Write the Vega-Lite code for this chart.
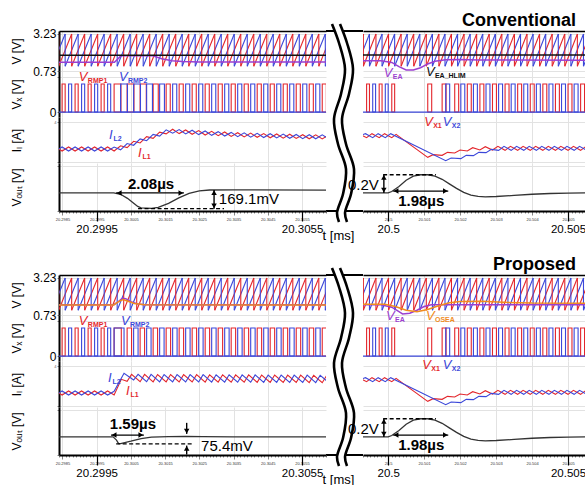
{
"$schema":"https://vega.github.io/schema/vega-lite/v6.json",
"background":"white",
"padding":{"left":10,"top":8,"right":0,"bottom":0},
"config":{"view":{"stroke":null},"font":"Liberation Sans, Arial, sans-serif","text":{"color":"#000"}},
"datasets":{
"rampL":[
{"s":"B","a":20.2982,"b":20.29858,"lo":1.05,"hi":3.2},{"s":"B","a":20.29858,"b":20.29896,"lo":1.05,"hi":3.2},{"s":"B","a":20.29896,"b":20.29934,"lo":1.05,"hi":3.2},{"s":"B","a":20.29934,"b":20.29972,"lo":1.05,"hi":3.2},{"s":"B","a":20.29972,"b":20.3001,"lo":1.05,"hi":3.2},{"s":"B","a":20.3001,"b":20.30048,"lo":1.05,"hi":3.2},{"s":"B","a":20.30048,"b":20.30086,"lo":1.05,"hi":3.2},{"s":"B","a":20.30086,"b":20.30124,"lo":1.05,"hi":3.2},{"s":"B","a":20.30124,"b":20.30162,"lo":1.05,"hi":3.2},{"s":"B","a":20.30162,"b":20.302,"lo":1.05,"hi":3.2},{"s":"B","a":20.302,"b":20.30238,"lo":1.05,"hi":3.2},{"s":"B","a":20.30238,"b":20.30276,"lo":1.05,"hi":3.2},{"s":"B","a":20.30276,"b":20.30314,"lo":1.05,"hi":3.2},{"s":"B","a":20.30314,"b":20.30352,"lo":1.05,"hi":3.2},{"s":"B","a":20.30352,"b":20.3039,"lo":1.05,"hi":3.2},{"s":"B","a":20.3039,"b":20.30428,"lo":1.05,"hi":3.2},{"s":"B","a":20.30428,"b":20.30466,"lo":1.05,"hi":3.2},{"s":"B","a":20.30466,"b":20.30504,"lo":1.05,"hi":3.2},{"s":"B","a":20.30504,"b":20.30542,"lo":1.05,"hi":3.2},{"s":"B","a":20.30542,"b":20.3058,"lo":1.05,"hi":3.2},{"s":"B","a":20.3058,"b":20.30618,"lo":1.05,"hi":3.2},{"s":"B","a":20.30618,"b":20.30656,"lo":1.05,"hi":3.2},
{"s":"R","a":20.29801,"b":20.29839,"lo":1.05,"hi":3.2},{"s":"R","a":20.29839,"b":20.29877,"lo":1.05,"hi":3.2},{"s":"R","a":20.29877,"b":20.29915,"lo":1.05,"hi":3.2},{"s":"R","a":20.29915,"b":20.29953,"lo":1.05,"hi":3.2},{"s":"R","a":20.29953,"b":20.29991,"lo":1.05,"hi":3.2},{"s":"R","a":20.29991,"b":20.30029,"lo":1.05,"hi":3.2},{"s":"R","a":20.30029,"b":20.30067,"lo":1.05,"hi":3.2},{"s":"R","a":20.30067,"b":20.30105,"lo":1.05,"hi":3.2},{"s":"R","a":20.30105,"b":20.30143,"lo":1.05,"hi":3.2},{"s":"R","a":20.30143,"b":20.30181,"lo":1.05,"hi":3.2},{"s":"R","a":20.30181,"b":20.30219,"lo":1.05,"hi":3.2},{"s":"R","a":20.30219,"b":20.30257,"lo":1.05,"hi":3.2},{"s":"R","a":20.30257,"b":20.30295,"lo":1.05,"hi":3.2},{"s":"R","a":20.30295,"b":20.30333,"lo":1.05,"hi":3.2},{"s":"R","a":20.30333,"b":20.30371,"lo":1.05,"hi":3.2},{"s":"R","a":20.30371,"b":20.30409,"lo":1.05,"hi":3.2},{"s":"R","a":20.30409,"b":20.30447,"lo":1.05,"hi":3.2},{"s":"R","a":20.30447,"b":20.30485,"lo":1.05,"hi":3.2},{"s":"R","a":20.30485,"b":20.30523,"lo":1.05,"hi":3.2},{"s":"R","a":20.30523,"b":20.30561,"lo":1.05,"hi":3.2},{"s":"R","a":20.30561,"b":20.30599,"lo":1.05,"hi":3.2},{"s":"R","a":20.30599,"b":20.30637,"lo":1.05,"hi":3.2}],
"rampR":[
{"s":"B","a":20.49913,"b":20.49948,"lo":1.05,"hi":3.2},{"s":"B","a":20.49948,"b":20.49983,"lo":1.05,"hi":3.2},{"s":"B","a":20.49983,"b":20.50018,"lo":1.05,"hi":3.2},{"s":"B","a":20.50018,"b":20.50053,"lo":1.05,"hi":3.2},{"s":"B","a":20.50053,"b":20.50088,"lo":1.05,"hi":3.2},{"s":"B","a":20.50088,"b":20.50123,"lo":1.05,"hi":3.2},{"s":"B","a":20.50123,"b":20.50158,"lo":1.05,"hi":3.2},{"s":"B","a":20.50158,"b":20.50193,"lo":1.05,"hi":3.2},{"s":"B","a":20.50193,"b":20.50228,"lo":1.05,"hi":3.2},{"s":"B","a":20.50228,"b":20.50263,"lo":1.05,"hi":3.2},{"s":"B","a":20.50263,"b":20.50298,"lo":1.05,"hi":3.2},{"s":"B","a":20.50298,"b":20.50333,"lo":1.05,"hi":3.2},{"s":"B","a":20.50333,"b":20.50368,"lo":1.05,"hi":3.2},{"s":"B","a":20.50368,"b":20.50403,"lo":1.05,"hi":3.2},{"s":"B","a":20.50403,"b":20.50438,"lo":1.05,"hi":3.2},{"s":"B","a":20.50438,"b":20.50473,"lo":1.05,"hi":3.2},{"s":"B","a":20.50473,"b":20.50508,"lo":1.05,"hi":3.2},{"s":"B","a":20.50508,"b":20.50543,"lo":1.05,"hi":3.2},{"s":"B","a":20.50543,"b":20.50578,"lo":1.05,"hi":3.2},
{"s":"R","a":20.49896,"b":20.49931,"lo":1.05,"hi":3.2},{"s":"R","a":20.49931,"b":20.49966,"lo":1.05,"hi":3.2},{"s":"R","a":20.49966,"b":20.50001,"lo":1.05,"hi":3.2},{"s":"R","a":20.50001,"b":20.50036,"lo":1.05,"hi":3.2},{"s":"R","a":20.50036,"b":20.50071,"lo":1.05,"hi":3.2},{"s":"R","a":20.50071,"b":20.50106,"lo":1.05,"hi":3.2},{"s":"R","a":20.50106,"b":20.50141,"lo":1.05,"hi":3.2},{"s":"R","a":20.50141,"b":20.50176,"lo":1.05,"hi":3.2},{"s":"R","a":20.50176,"b":20.50211,"lo":1.05,"hi":3.2},{"s":"R","a":20.50211,"b":20.50246,"lo":1.05,"hi":3.2},{"s":"R","a":20.50246,"b":20.50281,"lo":1.05,"hi":3.2},{"s":"R","a":20.50281,"b":20.50316,"lo":1.05,"hi":3.2},{"s":"R","a":20.50316,"b":20.50351,"lo":1.05,"hi":3.2},{"s":"R","a":20.50351,"b":20.50386,"lo":1.05,"hi":3.2},{"s":"R","a":20.50386,"b":20.50421,"lo":1.05,"hi":3.2},{"s":"R","a":20.50421,"b":20.50456,"lo":1.05,"hi":3.2},{"s":"R","a":20.50456,"b":20.50491,"lo":1.05,"hi":3.2},{"s":"R","a":20.50491,"b":20.50526,"lo":1.05,"hi":3.2},{"s":"R","a":20.50526,"b":20.50561,"lo":1.05,"hi":3.2}],
"pulseLC":[
{"s":"R","a":20.29849,"b":20.29858,"h":4},{"s":"R","a":20.29887,"b":20.29896,"h":4},{"s":"R","a":20.29925,"b":20.29934,"h":4},{"s":"R","a":20.29963,"b":20.29972,"h":4},{"s":"R","a":20.30001,"b":20.30021,"h":4},{"s":"R","a":20.30039,"b":20.30059,"h":4},{"s":"R","a":20.30077,"b":20.30095,"h":4},{"s":"R","a":20.30115,"b":20.3013,"h":4},{"s":"R","a":20.30153,"b":20.30165,"h":4},{"s":"R","a":20.30191,"b":20.30203,"h":4},{"s":"R","a":20.30229,"b":20.30241,"h":4},{"s":"R","a":20.30267,"b":20.30279,"h":4},{"s":"R","a":20.30305,"b":20.30317,"h":4},{"s":"R","a":20.30343,"b":20.30355,"h":4},{"s":"R","a":20.30381,"b":20.30393,"h":4},{"s":"R","a":20.30419,"b":20.30431,"h":4},{"s":"R","a":20.30457,"b":20.30469,"h":4},{"s":"R","a":20.30495,"b":20.30507,"h":4},{"s":"R","a":20.30533,"b":20.30545,"h":4},{"s":"R","a":20.30571,"b":20.30583,"h":4},{"s":"R","a":20.30609,"b":20.30621,"h":4},
{"s":"B","a":20.29868,"b":20.29877,"h":4},{"s":"B","a":20.29906,"b":20.29915,"h":4},{"s":"B","a":20.29944,"b":20.29953,"h":4},{"s":"B","a":20.29982,"b":20.29991,"h":4},{"s":"B","a":20.3002,"b":20.3004,"h":4},{"s":"B","a":20.30058,"b":20.30078,"h":4},{"s":"B","a":20.30096,"b":20.30113,"h":4},{"s":"B","a":20.30134,"b":20.30148,"h":4},{"s":"B","a":20.30172,"b":20.30184,"h":4},{"s":"B","a":20.3021,"b":20.30222,"h":4},{"s":"B","a":20.30248,"b":20.3026,"h":4},{"s":"B","a":20.30286,"b":20.30298,"h":4},{"s":"B","a":20.30324,"b":20.30336,"h":4},{"s":"B","a":20.30362,"b":20.30374,"h":4},{"s":"B","a":20.304,"b":20.30412,"h":4},{"s":"B","a":20.30438,"b":20.3045,"h":4},{"s":"B","a":20.30476,"b":20.30488,"h":4},{"s":"B","a":20.30514,"b":20.30526,"h":4},{"s":"B","a":20.30552,"b":20.30564,"h":4},{"s":"B","a":20.3059,"b":20.30602,"h":4}],
"pulseLP":[
{"s":"R","a":20.29849,"b":20.29858,"h":4},{"s":"R","a":20.29887,"b":20.29896,"h":4},{"s":"R","a":20.29925,"b":20.29934,"h":4},{"s":"R","a":20.29963,"b":20.29972,"h":4},{"s":"R","a":20.30001,"b":20.30022,"h":4},{"s":"R","a":20.30039,"b":20.30052,"h":4},{"s":"R","a":20.30077,"b":20.3009,"h":4},{"s":"R","a":20.30115,"b":20.30128,"h":4},{"s":"R","a":20.30153,"b":20.30166,"h":4},{"s":"R","a":20.30191,"b":20.30204,"h":4},{"s":"R","a":20.30229,"b":20.30242,"h":4},{"s":"R","a":20.30267,"b":20.3028,"h":4},{"s":"R","a":20.30305,"b":20.30318,"h":4},{"s":"R","a":20.30343,"b":20.30356,"h":4},{"s":"R","a":20.30381,"b":20.30394,"h":4},{"s":"R","a":20.30419,"b":20.30432,"h":4},{"s":"R","a":20.30457,"b":20.3047,"h":4},{"s":"R","a":20.30495,"b":20.30508,"h":4},{"s":"R","a":20.30533,"b":20.30546,"h":4},{"s":"R","a":20.30571,"b":20.30584,"h":4},{"s":"R","a":20.30609,"b":20.30622,"h":4},
{"s":"B","a":20.29868,"b":20.29877,"h":4},{"s":"B","a":20.29906,"b":20.29915,"h":4},{"s":"B","a":20.29944,"b":20.29953,"h":4},{"s":"B","a":20.29982,"b":20.29991,"h":4},{"s":"B","a":20.30001,"b":20.3003,"h":4},{"s":"B","a":20.30058,"b":20.30071,"h":4},{"s":"B","a":20.30096,"b":20.30109,"h":4},{"s":"B","a":20.30134,"b":20.30147,"h":4},{"s":"B","a":20.30172,"b":20.30185,"h":4},{"s":"B","a":20.3021,"b":20.30223,"h":4},{"s":"B","a":20.30248,"b":20.30261,"h":4},{"s":"B","a":20.30286,"b":20.30299,"h":4},{"s":"B","a":20.30324,"b":20.30337,"h":4},{"s":"B","a":20.30362,"b":20.30375,"h":4},{"s":"B","a":20.304,"b":20.30413,"h":4},{"s":"B","a":20.30438,"b":20.30451,"h":4},{"s":"B","a":20.30476,"b":20.30489,"h":4},{"s":"B","a":20.30514,"b":20.30527,"h":4},{"s":"B","a":20.30552,"b":20.30565,"h":4},{"s":"B","a":20.3059,"b":20.30603,"h":4}],
"pulseR":[
{"s":"R","a":20.4994,"b":20.49948,"h":4},{"s":"R","a":20.49975,"b":20.49983,"h":4},{"s":"R","a":20.5001,"b":20.50018,"h":4},{"s":"R","a":20.5011,"b":20.50121,"h":4},{"s":"R","a":20.5015,"b":20.50161,"h":4},{"s":"R","a":20.50185,"b":20.50196,"h":4},{"s":"R","a":20.5022,"b":20.50231,"h":4},{"s":"R","a":20.50255,"b":20.50266,"h":4},{"s":"R","a":20.5029,"b":20.50301,"h":4},{"s":"R","a":20.50325,"b":20.50336,"h":4},{"s":"R","a":20.5036,"b":20.50371,"h":4},{"s":"R","a":20.50395,"b":20.50406,"h":4},{"s":"R","a":20.5043,"b":20.50441,"h":4},{"s":"R","a":20.50465,"b":20.50476,"h":4},{"s":"R","a":20.505,"b":20.50511,"h":4},{"s":"R","a":20.50535,"b":20.50546,"h":4},
{"s":"B","a":20.49957,"b":20.49965,"h":4},{"s":"B","a":20.49992,"b":20.5,"h":4},{"s":"B","a":20.5016,"b":20.50171,"h":4},{"s":"B","a":20.50202,"b":20.50213,"h":4},{"s":"B","a":20.50237,"b":20.50248,"h":4},{"s":"B","a":20.50272,"b":20.50283,"h":4},{"s":"B","a":20.50307,"b":20.50318,"h":4},{"s":"B","a":20.50342,"b":20.50353,"h":4},{"s":"B","a":20.50377,"b":20.50388,"h":4},{"s":"B","a":20.50412,"b":20.50423,"h":4},{"s":"B","a":20.50447,"b":20.50458,"h":4},{"s":"B","a":20.50482,"b":20.50493,"h":4},{"s":"B","a":20.50517,"b":20.50528,"h":4}],
"ilLC":[
{"s":"R","t":20.2983,"v":0.3},{"s":"R","t":20.29849,"v":-0.3},{"s":"R","t":20.29868,"v":0.3},{"s":"R","t":20.29887,"v":-0.3},{"s":"R","t":20.29906,"v":0.3},{"s":"R","t":20.29925,"v":-0.3},{"s":"R","t":20.29944,"v":0.3},{"s":"R","t":20.29963,"v":-0.3},{"s":"R","t":20.29982,"v":0.3},{"s":"R","t":20.30001,"v":-0.3},{"s":"R","t":20.3002,"v":0.48},{"s":"R","t":20.30039,"v":0.22},{"s":"R","t":20.30058,"v":1.16},{"s":"R","t":20.30077,"v":0.91},{"s":"R","t":20.30096,"v":1.85},{"s":"R","t":20.30115,"v":1.59},{"s":"R","t":20.30134,"v":2.53},{"s":"R","t":20.30153,"v":2.27},{"s":"R","t":20.30172,"v":2.97},{"s":"R","t":20.30191,"v":2.31},{"s":"R","t":20.3021,"v":2.86},{"s":"R","t":20.30229,"v":2.21},{"s":"R","t":20.30248,"v":2.76},{"s":"R","t":20.30267,"v":2.1},{"s":"R","t":20.30286,"v":2.65},{"s":"R","t":20.30305,"v":2.0},{"s":"R","t":20.30324,"v":2.55},{"s":"R","t":20.30343,"v":1.89},{"s":"R","t":20.30362,"v":2.45},{"s":"R","t":20.30381,"v":1.82},{"s":"R","t":20.304,"v":2.38},{"s":"R","t":20.30419,"v":1.75},{"s":"R","t":20.30438,"v":2.32},{"s":"R","t":20.30457,"v":1.69},{"s":"R","t":20.30476,"v":2.26},{"s":"R","t":20.30495,"v":1.63},{"s":"R","t":20.30514,"v":2.21},{"s":"R","t":20.30533,"v":1.58},{"s":"R","t":20.30552,"v":2.15},{"s":"R","t":20.30571,"v":1.54},{"s":"R","t":20.3059,"v":2.13},{"s":"R","t":20.30609,"v":1.52},{"s":"R","t":20.30628,"v":2.12},
{"s":"B","t":20.2983,"v":-0.3},{"s":"B","t":20.29849,"v":0.3},{"s":"B","t":20.29868,"v":-0.3},{"s":"B","t":20.29887,"v":0.3},{"s":"B","t":20.29906,"v":-0.3},{"s":"B","t":20.29925,"v":0.3},{"s":"B","t":20.29944,"v":-0.3},{"s":"B","t":20.29963,"v":0.3},{"s":"B","t":20.29982,"v":-0.3},{"s":"B","t":20.30001,"v":0.3},{"s":"B","t":20.3002,"v":-0.12},{"s":"B","t":20.30039,"v":0.82},{"s":"B","t":20.30058,"v":0.56},{"s":"B","t":20.30077,"v":1.51},{"s":"B","t":20.30096,"v":1.25},{"s":"B","t":20.30115,"v":2.19},{"s":"B","t":20.30134,"v":1.93},{"s":"B","t":20.30153,"v":2.87},{"s":"B","t":20.30172,"v":2.37},{"s":"B","t":20.30191,"v":2.91},{"s":"B","t":20.3021,"v":2.26},{"s":"B","t":20.30229,"v":2.81},{"s":"B","t":20.30248,"v":2.16},{"s":"B","t":20.30267,"v":2.7},{"s":"B","t":20.30286,"v":2.05},{"s":"B","t":20.30305,"v":2.6},{"s":"B","t":20.30324,"v":1.95},{"s":"B","t":20.30343,"v":2.49},{"s":"B","t":20.30362,"v":1.85},{"s":"B","t":20.30381,"v":2.42},{"s":"B","t":20.304,"v":1.78},{"s":"B","t":20.30419,"v":2.35},{"s":"B","t":20.30438,"v":1.72},{"s":"B","t":20.30457,"v":2.29},{"s":"B","t":20.30476,"v":1.66},{"s":"B","t":20.30495,"v":2.23},{"s":"B","t":20.30514,"v":1.61},{"s":"B","t":20.30533,"v":2.18},{"s":"B","t":20.30552,"v":1.55},{"s":"B","t":20.30571,"v":2.14},{"s":"B","t":20.3059,"v":1.53},{"s":"B","t":20.30609,"v":2.12},{"s":"B","t":20.30628,"v":1.52}],
"ilLP":[
{"s":"R","t":20.2983,"v":0.3},{"s":"R","t":20.29849,"v":-0.3},{"s":"R","t":20.29868,"v":0.3},{"s":"R","t":20.29887,"v":-0.3},{"s":"R","t":20.29906,"v":0.3},{"s":"R","t":20.29925,"v":-0.3},{"s":"R","t":20.29944,"v":0.3},{"s":"R","t":20.29963,"v":-0.3},{"s":"R","t":20.29982,"v":0.3},{"s":"R","t":20.30001,"v":-0.3},{"s":"R","t":20.30022,"v":2.05},{"s":"R","t":20.30039,"v":1.75},{"s":"R","t":20.30052,"v":2.8},{"s":"R","t":20.30077,"v":1.69},{"s":"R","t":20.3009,"v":2.79},{"s":"R","t":20.30115,"v":1.68},{"s":"R","t":20.30128,"v":2.78},{"s":"R","t":20.30153,"v":1.67},{"s":"R","t":20.30166,"v":2.77},{"s":"R","t":20.30191,"v":1.66},{"s":"R","t":20.30204,"v":2.76},{"s":"R","t":20.30229,"v":1.65},{"s":"R","t":20.30242,"v":2.75},{"s":"R","t":20.30267,"v":1.64},{"s":"R","t":20.3028,"v":2.74},{"s":"R","t":20.30305,"v":1.63},{"s":"R","t":20.30318,"v":2.73},{"s":"R","t":20.30343,"v":1.62},{"s":"R","t":20.30356,"v":2.72},{"s":"R","t":20.30381,"v":1.61},{"s":"R","t":20.30394,"v":2.71},{"s":"R","t":20.30419,"v":1.6},{"s":"R","t":20.30432,"v":2.7},{"s":"R","t":20.30457,"v":1.59},{"s":"R","t":20.3047,"v":2.69},{"s":"R","t":20.30495,"v":1.58},{"s":"R","t":20.30508,"v":2.68},{"s":"R","t":20.30533,"v":1.57},{"s":"R","t":20.30546,"v":2.67},{"s":"R","t":20.30571,"v":1.56},{"s":"R","t":20.30584,"v":2.66},{"s":"R","t":20.30609,"v":1.55},{"s":"R","t":20.30622,"v":2.65},
{"s":"B","t":20.2983,"v":-0.3},{"s":"B","t":20.29849,"v":0.3},{"s":"B","t":20.29868,"v":-0.3},{"s":"B","t":20.29887,"v":0.3},{"s":"B","t":20.29906,"v":-0.3},{"s":"B","t":20.29925,"v":0.3},{"s":"B","t":20.29944,"v":-0.3},{"s":"B","t":20.29963,"v":0.3},{"s":"B","t":20.29982,"v":-0.3},{"s":"B","t":20.30001,"v":0.25},{"s":"B","t":20.3003,"v":2.95},{"s":"B","t":20.30058,"v":1.95},{"s":"B","t":20.30071,"v":2.8},{"s":"B","t":20.30096,"v":1.69},{"s":"B","t":20.30109,"v":2.79},{"s":"B","t":20.30134,"v":1.68},{"s":"B","t":20.30147,"v":2.78},{"s":"B","t":20.30172,"v":1.67},{"s":"B","t":20.30185,"v":2.77},{"s":"B","t":20.3021,"v":1.66},{"s":"B","t":20.30223,"v":2.76},{"s":"B","t":20.30248,"v":1.65},{"s":"B","t":20.30261,"v":2.75},{"s":"B","t":20.30286,"v":1.64},{"s":"B","t":20.30299,"v":2.74},{"s":"B","t":20.30324,"v":1.63},{"s":"B","t":20.30337,"v":2.73},{"s":"B","t":20.30362,"v":1.62},{"s":"B","t":20.30375,"v":2.72},{"s":"B","t":20.304,"v":1.61},{"s":"B","t":20.30413,"v":2.71},{"s":"B","t":20.30438,"v":1.6},{"s":"B","t":20.30451,"v":2.7},{"s":"B","t":20.30476,"v":1.59},{"s":"B","t":20.30489,"v":2.69},{"s":"B","t":20.30514,"v":1.58},{"s":"B","t":20.30527,"v":2.68},{"s":"B","t":20.30552,"v":1.57},{"s":"B","t":20.30565,"v":2.67},{"s":"B","t":20.3059,"v":1.56},{"s":"B","t":20.30603,"v":2.66},{"s":"B","t":20.30628,"v":1.55}],
"ilR":[
{"s":"R","t":20.4992,"v":2.25},{"s":"R","t":20.4994,"v":1.7},{"s":"R","t":20.49955,"v":2.3},{"s":"R","t":20.49975,"v":1.7},{"s":"R","t":20.4999,"v":2.3},{"s":"R","t":20.5001,"v":1.7},{"s":"R","t":20.50022,"v":2.2},{"s":"R","t":20.5011,"v":-1.25},{"s":"R","t":20.50125,"v":-0.85},{"s":"R","t":20.5015,"v":-0.95},{"s":"R","t":20.50165,"v":-0.5},{"s":"R","t":20.50185,"v":-0.6},{"s":"R","t":20.502,"v":-0.15},{"s":"R","t":20.5022,"v":-0.3},{"s":"R","t":20.50235,"v":0.2},{"s":"R","t":20.50255,"v":-0.15},{"s":"R","t":20.5027,"v":0.35},{"s":"R","t":20.5029,"v":-0.15},{"s":"R","t":20.50305,"v":0.4},{"s":"R","t":20.50325,"v":-0.2},{"s":"R","t":20.5034,"v":0.4},{"s":"R","t":20.5036,"v":-0.2},{"s":"R","t":20.50375,"v":0.4},{"s":"R","t":20.50395,"v":-0.2},{"s":"R","t":20.5041,"v":0.4},{"s":"R","t":20.5043,"v":-0.2},{"s":"R","t":20.50445,"v":0.4},{"s":"R","t":20.50465,"v":-0.2},{"s":"R","t":20.5048,"v":0.4},{"s":"R","t":20.505,"v":-0.2},{"s":"R","t":20.50515,"v":0.4},{"s":"R","t":20.50535,"v":-0.2},{"s":"R","t":20.5055,"v":0.4},
{"s":"B","t":20.4992,"v":2.0},{"s":"B","t":20.49937,"v":2.3},{"s":"B","t":20.49957,"v":1.7},{"s":"B","t":20.49972,"v":2.3},{"s":"B","t":20.49992,"v":1.7},{"s":"B","t":20.50007,"v":2.3},{"s":"B","t":20.5016,"v":-1.75},{"s":"B","t":20.50175,"v":-1.35},{"s":"B","t":20.50202,"v":-1.45},{"s":"B","t":20.50217,"v":-0.95},{"s":"B","t":20.50237,"v":-1.0},{"s":"B","t":20.50252,"v":-0.5},{"s":"B","t":20.50272,"v":-0.55},{"s":"B","t":20.50287,"v":-0.05},{"s":"B","t":20.50307,"v":-0.2},{"s":"B","t":20.50322,"v":0.4},{"s":"B","t":20.50342,"v":-0.2},{"s":"B","t":20.50357,"v":0.4},{"s":"B","t":20.50377,"v":-0.2},{"s":"B","t":20.50392,"v":0.4},{"s":"B","t":20.50412,"v":-0.2},{"s":"B","t":20.50427,"v":0.4},{"s":"B","t":20.50447,"v":-0.2},{"s":"B","t":20.50462,"v":0.4},{"s":"B","t":20.50482,"v":-0.2},{"s":"B","t":20.50497,"v":0.4},{"s":"B","t":20.50517,"v":-0.2},{"s":"B","t":20.50532,"v":0.4},{"s":"B","t":20.50552,"v":-0.2}],
"veaLC":[
{"s":"P","t":20.2984,"v":1.31},{"s":"P","t":20.30002,"v":1.31},{"s":"P","t":20.30021,"v":1.74},{"s":"P","t":20.30114,"v":1.74},{"s":"P","t":20.3014,"v":1.55},{"s":"P","t":20.3017,"v":1.42},{"s":"P","t":20.302,"v":1.36},{"s":"P","t":20.3025,"v":1.33},{"s":"P","t":20.3062,"v":1.33},
{"s":"K","t":20.2984,"v":1.78},{"s":"K","t":20.3062,"v":1.78}],
"veaLP":[
{"s":"P","t":20.2984,"v":1.42},{"s":"P","t":20.3,"v":1.42},{"s":"P","t":20.30012,"v":1.6},{"s":"P","t":20.30025,"v":1.85},{"s":"P","t":20.30035,"v":1.82},{"s":"P","t":20.3005,"v":1.62},{"s":"P","t":20.3007,"v":1.47},{"s":"P","t":20.3009,"v":1.42},{"s":"P","t":20.3062,"v":1.42},
{"s":"O","t":20.2984,"v":1.4},{"s":"O","t":20.3,"v":1.4},{"s":"O","t":20.30014,"v":1.62},{"s":"O","t":20.30027,"v":1.76},{"s":"O","t":20.3004,"v":1.66},{"s":"O","t":20.3006,"v":1.5},{"s":"O","t":20.3009,"v":1.41},{"s":"O","t":20.3062,"v":1.4}],
"veaRC":[
{"s":"P","t":20.4993,"v":1.42},{"s":"P","t":20.4998,"v":1.42},{"s":"P","t":20.5001,"v":1.3},{"s":"P","t":20.5003,"v":1.02},{"s":"P","t":20.5005,"v":0.8},{"s":"P","t":20.5007,"v":0.8},{"s":"P","t":20.5009,"v":0.95},{"s":"P","t":20.5011,"v":1.2},{"s":"P","t":20.5013,"v":1.38},{"s":"P","t":20.5016,"v":1.48},{"s":"P","t":20.502,"v":1.5},{"s":"P","t":20.5025,"v":1.47},{"s":"P","t":20.5055,"v":1.45},
{"s":"K","t":20.4993,"v":1.8},{"s":"K","t":20.5055,"v":1.8}],
"veaRP":[
{"s":"P","t":20.4993,"v":1.42},{"s":"P","t":20.4998,"v":1.42},{"s":"P","t":20.5001,"v":1.25},{"s":"P","t":20.5003,"v":0.95},{"s":"P","t":20.5004,"v":0.8},{"s":"P","t":20.5006,"v":0.85},{"s":"P","t":20.5008,"v":1.05},{"s":"P","t":20.501,"v":1.3},{"s":"P","t":20.5012,"v":1.42},{"s":"P","t":20.5055,"v":1.42},
{"s":"O","t":20.4993,"v":1.45},{"s":"O","t":20.4999,"v":1.45},{"s":"O","t":20.5002,"v":1.3},{"s":"O","t":20.5005,"v":1.05},{"s":"O","t":20.5008,"v":0.95},{"s":"O","t":20.5011,"v":1.1},{"s":"O","t":20.5014,"v":1.35},{"s":"O","t":20.5017,"v":1.55},{"s":"O","t":20.502,"v":1.63},{"s":"O","t":20.5026,"v":1.64},{"s":"O","t":20.5032,"v":1.58},{"s":"O","t":20.504,"v":1.53},{"s":"O","t":20.5055,"v":1.52}],
"voutLC":[
{"t":20.2984,"v":1.0},{"t":20.3,"v":1.0},{"t":20.3002,"v":0.985},{"t":20.3004,"v":0.94},{"t":20.3006,"v":0.88},{"t":20.3007,"v":0.85},{"t":20.3008,"v":0.835},{"t":20.3011,"v":0.829},{"t":20.3013,"v":0.84},{"t":20.3016,"v":0.885},{"t":20.3019,"v":0.945},{"t":20.3022,"v":0.995},{"t":20.3025,"v":1.022},{"t":20.3028,"v":1.032},{"t":20.3035,"v":1.033},{"t":20.3062,"v":1.03}],
"voutLP":[
{"t":20.2984,"v":1.0},{"t":20.29998,"v":1.0},{"t":20.30008,"v":0.965},{"t":20.30014,"v":0.925},{"t":20.3002,"v":0.926},{"t":20.3005,"v":0.952},{"t":20.3008,"v":0.982},{"t":20.3011,"v":0.997},{"t":20.3016,"v":1.004},{"t":20.3021,"v":1.006},{"t":20.3026,"v":1.003},{"t":20.3035,"v":1.0},{"t":20.3062,"v":1.0}],
"voutR":[
{"t":20.4993,"v":1.0},{"t":20.5,"v":1.0},{"t":20.5001,"v":1.015},{"t":20.5003,"v":1.07},{"t":20.5005,"v":1.14},{"t":20.5007,"v":1.185},{"t":20.5009,"v":1.2},{"t":20.5011,"v":1.2},{"t":20.5013,"v":1.185},{"t":20.5015,"v":1.15},{"t":20.5017,"v":1.1},{"t":20.5019,"v":1.05},{"t":20.5021,"v":1.005},{"t":20.5023,"v":0.975},{"t":20.5025,"v":0.962},{"t":20.5027,"v":0.957},{"t":20.503,"v":0.96},{"t":20.5035,"v":0.972},{"t":20.504,"v":0.985},{"t":20.5045,"v":0.993},{"t":20.505,"v":0.998},{"t":20.5055,"v":1.0}],
"brk":[
{"g":"A","u":6,"w":-7},{"g":"A","u":13,"w":12},{"g":"A","u":19,"w":38},{"g":"A","u":15,"w":63},{"g":"A","u":8,"w":88},{"g":"A","u":12,"w":113},{"g":"A","u":20,"w":138},{"g":"A","u":17,"w":163},{"g":"A","u":11,"w":182},{"g":"A","u":13,"w":191},
{"g":"B","u":14,"w":-7},{"g":"B","u":21,"w":12},{"g":"B","u":27,"w":38},{"g":"B","u":23,"w":63},{"g":"B","u":16,"w":88},{"g":"B","u":20,"w":113},{"g":"B","u":28,"w":138},{"g":"B","u":25,"w":163},{"g":"B","u":19,"w":182},{"g":"B","u":21,"w":191},
{"g":"M","u":10,"w":-7},{"g":"M","u":17,"w":12},{"g":"M","u":23,"w":38},{"g":"M","u":19,"w":63},{"g":"M","u":12,"w":88},{"g":"M","u":16,"w":113},{"g":"M","u":24,"w":138},{"g":"M","u":21,"w":163},{"g":"M","u":15,"w":182},{"g":"M","u":17,"w":191}]
},
"spacing":10,
"vconcat":[
{"concat":[
{"width":267,"height":40,"layer":[
{"data":{"name":"rampL"},"mark":{"type":"rule","clip":true,"strokeWidth":1.1},"encoding":{"x":{"field":"a","type":"quantitative","scale":{"domain":[20.2984,20.3062],"nice":false,"zero":false},"axis":{"orient":"top","values":[20.2985,20.2995,20.3005,20.3015,20.3025,20.3035,20.3045,20.3055],"labels":false,"ticks":false,"domain":true,"domainColor":"#000","domainWidth":1.5,"grid":true,"gridColor":"#e2e2e2","title":null}},"x2":{"field":"b"},"y":{"field":"lo","type":"quantitative","scale":{"domain":[0.73,3.4],"nice":false,"zero":false},"axis":{"values":[0.73,1.25,1.75,2.25,2.75,3.23],"title":"V [V]","titleX":-36,"titleFontSize":12,"titleFontWeight":"normal","titleColor":"#000","domainColor":"#000","domainWidth":2,"tickSize":2,"tickColor":"#888","labelPadding":1,"labelOverlap":false,"labelFlush":false,"grid":true,"gridColor":"#e2e2e2","labelExpr":"datum.value==0.73||datum.value==3.23 ? format(datum.value,'.2f')+'\u00a0' : (datum.value==1.75 ? '1.75' : '')","labelFontSize":{"condition":{"test":"datum.value==0.73||datum.value==3.23","value":12},"value":4},"labelColor":{"condition":{"test":"datum.value==0.73||datum.value==3.23","value":"#000"},"value":"#666"}}},"y2":{"field":"hi"},"color":{"field":"s","type":"nominal","scale":{"domain":["R","B","P","O","K"],"range":["#e3262c","#3b47d9","#9b3fd0","#f08c1e","#111111"]},"legend":null}}},
{"data":{"name":"rampL"},"mark":{"type":"rule","clip":true,"strokeWidth":1.1},"encoding":{"x":{"field":"b","type":"quantitative"},"y":{"field":"lo","type":"quantitative"},"y2":{"field":"hi"},"color":{"field":"s","type":"nominal","legend":null}}},
{"data":{"name":"veaLC"},"mark":{"type":"line","clip":true,"strokeWidth":1.5},"encoding":{"x":{"field":"t","type":"quantitative"},"y":{"field":"v","type":"quantitative"},"color":{"field":"s","type":"nominal","legend":null}}}]},
{"width":37,"height":40,"layer":[
{"data":{"values":[{"w":0},{"w":180}]},"mark":{"type":"rule","color":"#000","strokeWidth":1.8},"encoding":{"y":{"field":"w","type":"quantitative","scale":{"domain":[0,40],"reverse":true,"nice":false,"zero":false},"axis":null}}},
{"data":{"name":"brk"},"transform":[{"filter":"datum.g == 'M'"}],"mark":{"type":"line","color":"#ffffff","strokeWidth":8,"interpolate":"catmull-rom"},"encoding":{"x":{"field":"u","type":"quantitative","scale":{"domain":[0,37],"nice":false,"zero":false},"axis":null},"y":{"field":"w","type":"quantitative","axis":null},"order":{"field":"w"}}},
{"data":{"name":"brk"},"transform":[{"filter":"datum.g != 'M'"}],"mark":{"type":"line","color":"#000","strokeWidth":2.6,"interpolate":"catmull-rom"},"encoding":{"x":{"field":"u","type":"quantitative","axis":null},"y":{"field":"w","type":"quantitative","axis":null},"detail":{"field":"g"},"order":{"field":"w"}}}]},
{"width":223,"height":40,"title":{"text":"Conventional","anchor":"end","frame":"group","fontSize":18,"fontWeight":"bold","offset":1,"dx":-10,"color":"#000"},"layer":[
{"data":{"name":"rampR"},"mark":{"type":"rule","clip":true,"strokeWidth":1.1},"encoding":{"x":{"field":"a","type":"quantitative","scale":{"domain":[20.4993,20.5055],"nice":false,"zero":false},"axis":{"orient":"top","values":[20.5,20.501,20.502,20.503,20.504,20.505],"labels":false,"ticks":false,"domain":true,"domainColor":"#000","domainWidth":1.5,"grid":true,"gridColor":"#e2e2e2","title":null}},"x2":{"field":"b"},"y":{"field":"lo","type":"quantitative","scale":{"domain":[0.73,3.4],"nice":false,"zero":false},"axis":{"values":[0.73,1.25,1.75,2.25,2.75,3.23],"labels":false,"ticks":false,"domain":false,"grid":true,"gridColor":"#e2e2e2","title":null}},"y2":{"field":"hi"},"color":{"field":"s","type":"nominal","legend":null}}},
{"data":{"name":"rampR"},"mark":{"type":"rule","clip":true,"strokeWidth":1.1},"encoding":{"x":{"field":"b","type":"quantitative"},"y":{"field":"lo","type":"quantitative"},"y2":{"field":"hi"},"color":{"field":"s","type":"nominal","legend":null}}},
{"data":{"name":"veaRC"},"mark":{"type":"line","clip":true,"strokeWidth":1.5},"encoding":{"x":{"field":"t","type":"quantitative"},"y":{"field":"v","type":"quantitative"},"color":{"field":"s","type":"nominal","legend":null}}}]},
{"width":267,"height":46,"layer":[
{"data":{"name":"pulseLC"},"mark":{"type":"rect","filled":false,"strokeWidth":1.1,"clip":true},"encoding":{"x":{"field":"a","type":"quantitative","scale":{"domain":[20.2984,20.3062],"nice":false,"zero":false},"axis":{"values":[20.2985,20.2995,20.3005,20.3015,20.3025,20.3035,20.3045,20.3055],"labels":false,"ticks":false,"domain":false,"grid":true,"gridColor":"#e2e2e2","title":null}},"x2":{"field":"b"},"y":{"field":"h","type":"quantitative","scale":{"domain":[-0.71,5.86],"nice":false,"zero":false},"axis":{"values":[0,1,2,3,4,5],"title":"Vₓ [V]","titleX":-36,"titleFontSize":12,"titleFontWeight":"normal","titleColor":"#000","domainColor":"#000","domainWidth":2,"tickSize":2,"tickColor":"#888","labelPadding":1,"labelOverlap":false,"labelFlush":false,"grid":true,"gridColor":"#e2e2e2","labelExpr":"datum.value==0||datum.value==4 ? datum.value+'\u00a0' : (datum.value==2 ? '2.0' : '')","labelFontSize":{"condition":{"test":"datum.value==0||datum.value==4","value":12},"value":4},"labelColor":{"condition":{"test":"datum.value==0||datum.value==4","value":"#000"},"value":"#666"}}},"y2":{"datum":0},"color":{"field":"s","type":"nominal","legend":null}}},
{"data":{"values":[{"v":0}]},"mark":{"type":"rule","color":"#3b47d9","strokeWidth":1.2},"encoding":{"y":{"field":"v","type":"quantitative"}}},
{"data":{"values":[{"m":"V","sub":"RMP1","s":"R","t":20.29898,"v":4.43},{"m":"V","sub":"RMP2","s":"B","t":20.30015,"v":4.43}]},"layer":[
{"mark":{"type":"text","align":"left","baseline":"alphabetic","fontSize":13,"fontStyle":"italic"},"encoding":{"x":{"field":"t","type":"quantitative"},"y":{"field":"v","type":"quantitative"},"text":{"field":"m"},"color":{"field":"s","type":"nominal","legend":null}}},
{"mark":{"type":"text","align":"left","baseline":"alphabetic","fontSize":7,"fontWeight":"bold","dx":9,"dy":2},"encoding":{"x":{"field":"t","type":"quantitative"},"y":{"field":"v","type":"quantitative"},"text":{"field":"sub"},"color":{"field":"s","type":"nominal","legend":null}}}]}]},
{"width":37,"height":46,"data":{"values":[]},"mark":"point"},
{"width":223,"height":46,"layer":[
{"data":{"name":"pulseR"},"mark":{"type":"rect","filled":false,"strokeWidth":1.1,"clip":true},"encoding":{"x":{"field":"a","type":"quantitative","scale":{"domain":[20.4993,20.5055],"nice":false,"zero":false},"axis":{"values":[20.5,20.501,20.502,20.503,20.504,20.505],"labels":false,"ticks":false,"domain":false,"grid":true,"gridColor":"#e2e2e2","title":null}},"x2":{"field":"b"},"y":{"field":"h","type":"quantitative","scale":{"domain":[-0.71,5.86],"nice":false,"zero":false},"axis":{"values":[0,1,2,3,4,5],"labels":false,"ticks":false,"domain":false,"grid":true,"gridColor":"#e2e2e2","title":null}},"y2":{"datum":0},"color":{"field":"s","type":"nominal","legend":null}}},
{"data":{"values":[{"v":0}]},"mark":{"type":"rule","color":"#3b47d9","strokeWidth":1.2},"encoding":{"y":{"field":"v","type":"quantitative"}}},
{"data":{"values":[{"m":"V","sub":"EA","s":"P","t":20.49988,"v":5.0},{"m":"V","sub":"EA_HLIM","s":"K","t":20.50105,"v":5.14}]},"layer":[
{"mark":{"type":"text","align":"left","baseline":"alphabetic","fontSize":13,"fontStyle":"italic"},"encoding":{"x":{"field":"t","type":"quantitative"},"y":{"field":"v","type":"quantitative"},"text":{"field":"m"},"color":{"field":"s","type":"nominal","legend":null}}},
{"mark":{"type":"text","align":"left","baseline":"alphabetic","fontSize":7,"fontWeight":"bold","dx":9,"dy":2},"encoding":{"x":{"field":"t","type":"quantitative"},"y":{"field":"v","type":"quantitative"},"text":{"field":"sub"},"color":{"field":"s","type":"nominal","legend":null}}}]}]},
{"width":267,"height":46,"layer":[
{"data":{"name":"ilLC"},"mark":{"type":"line","clip":true,"strokeWidth":1.1},"encoding":{"x":{"field":"t","type":"quantitative","scale":{"domain":[20.2984,20.3062],"nice":false,"zero":false},"axis":{"values":[20.2985,20.2995,20.3005,20.3015,20.3025,20.3035,20.3045,20.3055],"labels":false,"ticks":false,"domain":false,"grid":true,"gridColor":"#e2e2e2","title":null}},"y":{"field":"v","type":"quantitative","scale":{"domain":[-2.1,4.8],"nice":false,"zero":false},"axis":{"values":[-2,-1,0,1,2,3,4],"title":"Iₗ [A]","titleX":-36,"titleFontSize":12,"titleFontWeight":"normal","titleColor":"#000","domainColor":"#000","domainWidth":2,"tickSize":2,"tickColor":"#888","labelPadding":1,"labelOverlap":false,"labelFlush":false,"grid":true,"gridColor":"#e2e2e2","labelExpr":"datum.value==0||datum.value==2 ? datum.value+'\u00a0' : (datum.value==4 ? '4' : '')","labelFontSize":{"condition":{"test":"datum.value==0||datum.value==2","value":12},"value":4},"labelColor":{"condition":{"test":"datum.value==0||datum.value==2","value":"#000"},"value":"#666"}}},"color":{"field":"s","type":"nominal","legend":null}}},
{"data":{"values":[{"m":"I","sub":"L2","s":"B","t":20.29986,"v":1.5},{"m":"I","sub":"L1","s":"R","t":20.30071,"v":-1.2}]},"layer":[
{"mark":{"type":"text","align":"left","baseline":"alphabetic","fontSize":13,"fontStyle":"italic"},"encoding":{"x":{"field":"t","type":"quantitative"},"y":{"field":"v","type":"quantitative"},"text":{"field":"m"},"color":{"field":"s","type":"nominal","legend":null}}},
{"mark":{"type":"text","align":"left","baseline":"alphabetic","fontSize":7,"fontWeight":"bold","dx":4.5,"dy":2},"encoding":{"x":{"field":"t","type":"quantitative"},"y":{"field":"v","type":"quantitative"},"text":{"field":"sub"},"color":{"field":"s","type":"nominal","legend":null}}}]}]},
{"width":37,"height":46,"data":{"values":[]},"mark":"point"},
{"width":223,"height":46,"layer":[
{"data":{"name":"ilR"},"mark":{"type":"line","clip":true,"strokeWidth":1.1},"encoding":{"x":{"field":"t","type":"quantitative","scale":{"domain":[20.4993,20.5055],"nice":false,"zero":false},"axis":{"values":[20.5,20.501,20.502,20.503,20.504,20.505],"labels":false,"ticks":false,"domain":false,"grid":true,"gridColor":"#e2e2e2","title":null}},"y":{"field":"v","type":"quantitative","scale":{"domain":[-2.1,4.8],"nice":false,"zero":false},"axis":{"values":[-2,-1,0,1,2,3,4],"labels":false,"ticks":false,"domain":false,"grid":true,"gridColor":"#e2e2e2","title":null}},"color":{"field":"s","type":"nominal","legend":null}}},
{"data":{"values":[{"m":"V","sub":"X1","s":"R","t":20.501,"v":3.46},{"m":"V","sub":"X2","s":"B","t":20.50152,"v":3.46}]},"layer":[
{"mark":{"type":"text","align":"left","baseline":"alphabetic","fontSize":13,"fontStyle":"italic"},"encoding":{"x":{"field":"t","type":"quantitative"},"y":{"field":"v","type":"quantitative"},"text":{"field":"m"},"color":{"field":"s","type":"nominal","legend":null}}},
{"mark":{"type":"text","align":"left","baseline":"alphabetic","fontSize":7,"fontWeight":"bold","dx":9,"dy":2},"encoding":{"x":{"field":"t","type":"quantitative"},"y":{"field":"v","type":"quantitative"},"text":{"field":"sub"},"color":{"field":"s","type":"nominal","legend":null}}}]}]},
{"width":267,"height":48,"resolve":{"axis":{"x":"independent"}},"layer":[
{"layer":[
{"data":{"name":"voutLC"},"mark":{"type":"line","color":"#333","strokeWidth":1.3,"clip":true},"encoding":{"x":{"field":"t","type":"quantitative","scale":{"domain":[20.2984,20.3062],"nice":false,"zero":false},"axis":{"orient":"bottom","tickCount":78,"title":null,"labelExpr":"abs((datum.value-20.2985)*1000-round((datum.value-20.2985)*1000))<0.02 ? format(datum.value,'.4f') : ''","labelFontSize":4,"labelColor":"#333","labelPadding":2,"labelOverlap":false,"labelFlush":false,"tickSize":{"condition":{"test":"abs((datum.value-20.2985)*1000-round((datum.value-20.2985)*1000))<0.02","value":4},"value":2},"tickColor":"#333","tickWidth":0.6,"domainColor":"#000","domainWidth":2,"grid":true,"gridColor":"#e2e2e2","gridOpacity":{"condition":{"test":"abs((datum.value-20.2985)*1000-round((datum.value-20.2985)*1000))<0.02","value":1},"value":0}}},"y":{"field":"v","type":"quantitative","scale":{"domain":[0.8,1.33],"nice":false,"zero":false},"axis":{"values":[0.8,0.9,1,1.1,1.2,1.3],"title":"Vₒᵤₜ [V]","titleX":-36,"titleFontSize":12,"titleFontWeight":"normal","titleColor":"#000","domainColor":"#000","domainWidth":2,"tickSize":2,"tickColor":"#888","labelPadding":1,"labelOverlap":false,"labelFlush":false,"grid":true,"gridColor":"#e2e2e2","labelExpr":"datum.value==1 ? '1\u00a0' : (datum.value==1.2 ? '1.2' : '')","labelFontSize":{"condition":{"test":"datum.value==1","value":12},"value":4},"labelColor":{"condition":{"test":"datum.value==1","value":"#000"},"value":"#666"}}}}},
{"data":{"values":[{"t":20.30007,"t2":20.30205,"v":1.0,"v2":1.0},{"t":20.30293,"t2":20.30293,"v":1.033,"v2":0.826}]},"mark":{"type":"rule","color":"#000","strokeWidth":1.4},"encoding":{"x":{"field":"t","type":"quantitative"},"x2":{"field":"t2"},"y":{"field":"v","type":"quantitative"},"y2":{"field":"v2"}}},
{"data":{"values":[{"t":20.30016,"v":1.0,"d":"l"},{"t":20.30196,"v":1.0,"d":"r"},{"t":20.30293,"v":1.003,"d":"u"},{"t":20.30293,"v":0.856,"d":"d"}]},"mark":{"type":"point","filled":true,"size":30,"color":"#000","opacity":1},"encoding":{"x":{"field":"t","type":"quantitative"},"y":{"field":"v","type":"quantitative"},"shape":{"field":"d","type":"nominal","scale":{"domain":["l","r","u","d"],"range":["triangle-left","triangle-right","triangle-up","triangle-down"]},"legend":null}}},
{"data":{"values":[{"txt":"2.08µs","t":20.30109,"v":1.044}]},"mark":{"type":"text","align":"center","baseline":"alphabetic","fontSize":15,"fontWeight":"bold","color":"#000"},"encoding":{"x":{"field":"t","type":"quantitative"},"y":{"field":"v","type":"quantitative"},"text":{"field":"txt"}}},
{"data":{"values":[{"txt":"169.1mV","t":20.30307,"v":0.879}]},"mark":{"type":"text","align":"left","baseline":"alphabetic","fontSize":15,"color":"#000"},"encoding":{"x":{"field":"t","type":"quantitative"},"y":{"field":"v","type":"quantitative"},"text":{"field":"txt"}}}]},
{"data":{"values":[{"t":20.30071,"t2":20.30322,"v":0.826}]},"mark":{"type":"rule","color":"#000","strokeWidth":1.3,"strokeDash":[4,2.5]},"encoding":{"x":{"field":"t","type":"quantitative","axis":{"orient":"bottom","values":[20.2995,20.3055],"format":".4f","title":null,"labelFontSize":11.5,"labelColor":"#000","labelPadding":2,"labelOverlap":false,"labelFlush":false,"tickSize":10,"tickColor":"#000","tickWidth":1.2,"domain":false,"grid":false}},"x2":{"field":"t2"},"y":{"field":"v","type":"quantitative"}}}]},
{"width":37,"height":48,"data":{"values":[]},"mark":"point","encoding":{"x":{"field":"u","type":"quantitative","scale":{"domain":[0,37]},"axis":{"title":"t [ms]","titleX":12,"labels":false,"ticks":false,"domain":false,"grid":false,"titlePadding":18,"titleFontSize":13,"titleFontWeight":"normal","titleColor":"#000"}}}},
{"width":223,"height":48,"resolve":{"axis":{"x":"independent"}},"layer":[
{"layer":[
{"data":{"name":"voutR"},"mark":{"type":"line","color":"#333","strokeWidth":1.3,"clip":true},"encoding":{"x":{"field":"t","type":"quantitative","scale":{"domain":[20.4993,20.5055],"nice":false,"zero":false},"axis":{"orient":"bottom","tickCount":62,"title":null,"labelExpr":"abs(datum.value*1000-round(datum.value*1000))<0.02 ? format(datum.value,'.3~f') : ''","labelFontSize":4,"labelColor":"#333","labelPadding":2,"labelOverlap":false,"labelFlush":false,"tickSize":{"condition":{"test":"abs(datum.value*1000-round(datum.value*1000))<0.02","value":4},"value":2},"tickColor":"#333","tickWidth":0.6,"domainColor":"#000","domainWidth":2,"grid":true,"gridColor":"#e2e2e2","gridOpacity":{"condition":{"test":"abs(datum.value*1000-round(datum.value*1000))<0.02","value":1},"value":0}}},"y":{"field":"v","type":"quantitative","scale":{"domain":[0.8,1.33],"nice":false,"zero":false},"axis":{"values":[0.8,0.9,1,1.1,1.2,1.3],"labels":false,"ticks":false,"domain":false,"grid":true,"gridColor":"#e2e2e2","title":null}}}},
{"data":{"values":[{"t":20.50014,"t2":20.50167,"v":1.02,"v2":1.02},{"t":20.49988,"t2":20.49988,"v":1.2,"v2":1.0}]},"mark":{"type":"rule","color":"#000","strokeWidth":1.4},"encoding":{"x":{"field":"t","type":"quantitative"},"x2":{"field":"t2"},"y":{"field":"v","type":"quantitative"},"y2":{"field":"v2"}}},
{"data":{"values":[{"t":20.50022,"v":1.02,"d":"l"},{"t":20.50159,"v":1.02,"d":"r"},{"t":20.49988,"v":1.17,"d":"u"},{"t":20.49988,"v":1.03,"d":"d"}]},"mark":{"type":"point","filled":true,"size":30,"color":"#000","opacity":1},"encoding":{"x":{"field":"t","type":"quantitative"},"y":{"field":"v","type":"quantitative"},"shape":{"field":"d","type":"nominal","legend":null}}},
{"data":{"values":[{"txt":"1.98µs","t":20.50092,"v":0.857}]},"mark":{"type":"text","align":"center","baseline":"alphabetic","fontSize":15,"fontWeight":"bold","color":"#000"},"encoding":{"x":{"field":"t","type":"quantitative"},"y":{"field":"v","type":"quantitative"},"text":{"field":"txt"}}},
{"data":{"values":[{"txt":"0.2V","t":20.49974,"v":1.033}]},"mark":{"type":"text","align":"right","baseline":"alphabetic","fontSize":15,"color":"#000"},"encoding":{"x":{"field":"t","type":"quantitative"},"y":{"field":"v","type":"quantitative"},"text":{"field":"txt"}}}]},
{"data":{"values":[{"t":20.49986,"t2":20.50133,"v":1.2}]},"mark":{"type":"rule","color":"#000","strokeWidth":1.3,"strokeDash":[4,2.5]},"encoding":{"x":{"field":"t","type":"quantitative","axis":{"orient":"bottom","values":[20.5,20.505],"format":".3~f","title":null,"labelFontSize":11.5,"labelColor":"#000","labelPadding":2,"labelOverlap":false,"labelFlush":false,"tickSize":10,"tickColor":"#000","tickWidth":1.2,"domain":false,"grid":false}},"x2":{"field":"t2"},"y":{"field":"v","type":"quantitative"}}}]}
],"columns":3,"spacing":0,"bounds":"flush","align":"each"},
{"concat":[
{"width":267,"height":40,"layer":[
{"data":{"name":"rampL"},"mark":{"type":"rule","clip":true,"strokeWidth":1.1},"encoding":{"x":{"field":"a","type":"quantitative","scale":{"domain":[20.2984,20.3062],"nice":false,"zero":false},"axis":{"orient":"top","values":[20.2985,20.2995,20.3005,20.3015,20.3025,20.3035,20.3045,20.3055],"labels":false,"ticks":false,"domain":true,"domainColor":"#000","domainWidth":1.5,"grid":true,"gridColor":"#e2e2e2","title":null}},"x2":{"field":"b"},"y":{"field":"lo","type":"quantitative","scale":{"domain":[0.73,3.4],"nice":false,"zero":false},"axis":{"values":[0.73,1.25,1.75,2.25,2.75,3.23],"title":"V [V]","titleX":-36,"titleFontSize":12,"titleFontWeight":"normal","titleColor":"#000","domainColor":"#000","domainWidth":2,"tickSize":2,"tickColor":"#888","labelPadding":1,"labelOverlap":false,"labelFlush":false,"grid":true,"gridColor":"#e2e2e2","labelExpr":"datum.value==0.73||datum.value==3.23 ? format(datum.value,'.2f')+'\u00a0' : (datum.value==1.75 ? '1.75' : '')","labelFontSize":{"condition":{"test":"datum.value==0.73||datum.value==3.23","value":12},"value":4},"labelColor":{"condition":{"test":"datum.value==0.73||datum.value==3.23","value":"#000"},"value":"#666"}}},"y2":{"field":"hi"},"color":{"field":"s","type":"nominal","legend":null}}},
{"data":{"name":"rampL"},"mark":{"type":"rule","clip":true,"strokeWidth":1.1},"encoding":{"x":{"field":"b","type":"quantitative"},"y":{"field":"lo","type":"quantitative"},"y2":{"field":"hi"},"color":{"field":"s","type":"nominal","legend":null}}},
{"data":{"name":"veaLP"},"mark":{"type":"line","clip":true,"strokeWidth":1.5},"encoding":{"x":{"field":"t","type":"quantitative"},"y":{"field":"v","type":"quantitative"},"color":{"field":"s","type":"nominal","legend":null}}}]},
{"width":37,"height":40,"layer":[
{"data":{"values":[{"w":0},{"w":180}]},"mark":{"type":"rule","color":"#000","strokeWidth":1.8},"encoding":{"y":{"field":"w","type":"quantitative","scale":{"domain":[0,40],"reverse":true,"nice":false,"zero":false},"axis":null}}},
{"data":{"name":"brk"},"transform":[{"filter":"datum.g == 'M'"}],"mark":{"type":"line","color":"#ffffff","strokeWidth":8,"interpolate":"catmull-rom"},"encoding":{"x":{"field":"u","type":"quantitative","scale":{"domain":[0,37],"nice":false,"zero":false},"axis":null},"y":{"field":"w","type":"quantitative","axis":null},"order":{"field":"w"}}},
{"data":{"name":"brk"},"transform":[{"filter":"datum.g != 'M'"}],"mark":{"type":"line","color":"#000","strokeWidth":2.6,"interpolate":"catmull-rom"},"encoding":{"x":{"field":"u","type":"quantitative","axis":null},"y":{"field":"w","type":"quantitative","axis":null},"detail":{"field":"g"},"order":{"field":"w"}}}]},
{"width":223,"height":40,"title":{"text":"Proposed","anchor":"end","frame":"group","fontSize":18,"fontWeight":"bold","offset":1,"dx":-10,"color":"#000"},"layer":[
{"data":{"name":"rampR"},"mark":{"type":"rule","clip":true,"strokeWidth":1.1},"encoding":{"x":{"field":"a","type":"quantitative","scale":{"domain":[20.4993,20.5055],"nice":false,"zero":false},"axis":{"orient":"top","values":[20.5,20.501,20.502,20.503,20.504,20.505],"labels":false,"ticks":false,"domain":true,"domainColor":"#000","domainWidth":1.5,"grid":true,"gridColor":"#e2e2e2","title":null}},"x2":{"field":"b"},"y":{"field":"lo","type":"quantitative","scale":{"domain":[0.73,3.4],"nice":false,"zero":false},"axis":{"values":[0.73,1.25,1.75,2.25,2.75,3.23],"labels":false,"ticks":false,"domain":false,"grid":true,"gridColor":"#e2e2e2","title":null}},"y2":{"field":"hi"},"color":{"field":"s","type":"nominal","legend":null}}},
{"data":{"name":"rampR"},"mark":{"type":"rule","clip":true,"strokeWidth":1.1},"encoding":{"x":{"field":"b","type":"quantitative"},"y":{"field":"lo","type":"quantitative"},"y2":{"field":"hi"},"color":{"field":"s","type":"nominal","legend":null}}},
{"data":{"name":"veaRP"},"mark":{"type":"line","clip":true,"strokeWidth":1.5},"encoding":{"x":{"field":"t","type":"quantitative"},"y":{"field":"v","type":"quantitative"},"color":{"field":"s","type":"nominal","legend":null}}}]},
{"width":267,"height":46,"layer":[
{"data":{"name":"pulseLP"},"mark":{"type":"rect","filled":false,"strokeWidth":1.1,"clip":true},"encoding":{"x":{"field":"a","type":"quantitative","scale":{"domain":[20.2984,20.3062],"nice":false,"zero":false},"axis":{"values":[20.2985,20.2995,20.3005,20.3015,20.3025,20.3035,20.3045,20.3055],"labels":false,"ticks":false,"domain":false,"grid":true,"gridColor":"#e2e2e2","title":null}},"x2":{"field":"b"},"y":{"field":"h","type":"quantitative","scale":{"domain":[-0.71,5.86],"nice":false,"zero":false},"axis":{"values":[0,1,2,3,4,5],"title":"Vₓ [V]","titleX":-36,"titleFontSize":12,"titleFontWeight":"normal","titleColor":"#000","domainColor":"#000","domainWidth":2,"tickSize":2,"tickColor":"#888","labelPadding":1,"labelOverlap":false,"labelFlush":false,"grid":true,"gridColor":"#e2e2e2","labelExpr":"datum.value==0||datum.value==4 ? datum.value+'\u00a0' : (datum.value==2 ? '2.0' : '')","labelFontSize":{"condition":{"test":"datum.value==0||datum.value==4","value":12},"value":4},"labelColor":{"condition":{"test":"datum.value==0||datum.value==4","value":"#000"},"value":"#666"}}},"y2":{"datum":0},"color":{"field":"s","type":"nominal","legend":null}}},
{"data":{"values":[{"v":0}]},"mark":{"type":"rule","color":"#3b47d9","strokeWidth":1.2},"encoding":{"y":{"field":"v","type":"quantitative"}}},
{"data":{"values":[{"m":"V","sub":"RMP1","s":"R","t":20.29898,"v":4.43},{"m":"V","sub":"RMP2","s":"B","t":20.30021,"v":4.43}]},"layer":[
{"mark":{"type":"text","align":"left","baseline":"alphabetic","fontSize":13,"fontStyle":"italic"},"encoding":{"x":{"field":"t","type":"quantitative"},"y":{"field":"v","type":"quantitative"},"text":{"field":"m"},"color":{"field":"s","type":"nominal","legend":null}}},
{"mark":{"type":"text","align":"left","baseline":"alphabetic","fontSize":7,"fontWeight":"bold","dx":9,"dy":2},"encoding":{"x":{"field":"t","type":"quantitative"},"y":{"field":"v","type":"quantitative"},"text":{"field":"sub"},"color":{"field":"s","type":"nominal","legend":null}}}]}]},
{"width":37,"height":46,"data":{"values":[]},"mark":"point"},
{"width":223,"height":46,"layer":[
{"data":{"name":"pulseR"},"mark":{"type":"rect","filled":false,"strokeWidth":1.1,"clip":true},"encoding":{"x":{"field":"a","type":"quantitative","scale":{"domain":[20.4993,20.5055],"nice":false,"zero":false},"axis":{"values":[20.5,20.501,20.502,20.503,20.504,20.505],"labels":false,"ticks":false,"domain":false,"grid":true,"gridColor":"#e2e2e2","title":null}},"x2":{"field":"b"},"y":{"field":"h","type":"quantitative","scale":{"domain":[-0.71,5.86],"nice":false,"zero":false},"axis":{"values":[0,1,2,3,4,5],"labels":false,"ticks":false,"domain":false,"grid":true,"gridColor":"#e2e2e2","title":null}},"y2":{"datum":0},"color":{"field":"s","type":"nominal","legend":null}}},
{"data":{"values":[{"v":0}]},"mark":{"type":"rule","color":"#3b47d9","strokeWidth":1.2},"encoding":{"y":{"field":"v","type":"quantitative"}}},
{"data":{"values":[{"m":"V","sub":"EA","s":"P","t":20.49994,"v":5.14},{"m":"V","sub":"OSEA","s":"O","t":20.50105,"v":5.14}]},"layer":[
{"mark":{"type":"text","align":"left","baseline":"alphabetic","fontSize":13,"fontStyle":"italic"},"encoding":{"x":{"field":"t","type":"quantitative"},"y":{"field":"v","type":"quantitative"},"text":{"field":"m"},"color":{"field":"s","type":"nominal","legend":null}}},
{"mark":{"type":"text","align":"left","baseline":"alphabetic","fontSize":7,"fontWeight":"bold","dx":9,"dy":2},"encoding":{"x":{"field":"t","type":"quantitative"},"y":{"field":"v","type":"quantitative"},"text":{"field":"sub"},"color":{"field":"s","type":"nominal","legend":null}}}]}]},
{"width":267,"height":46,"layer":[
{"data":{"name":"ilLP"},"mark":{"type":"line","clip":true,"strokeWidth":1.1},"encoding":{"x":{"field":"t","type":"quantitative","scale":{"domain":[20.2984,20.3062],"nice":false,"zero":false},"axis":{"values":[20.2985,20.2995,20.3005,20.3015,20.3025,20.3035,20.3045,20.3055],"labels":false,"ticks":false,"domain":false,"grid":true,"gridColor":"#e2e2e2","title":null}},"y":{"field":"v","type":"quantitative","scale":{"domain":[-2.1,4.8],"nice":false,"zero":false},"axis":{"values":[-2,-1,0,1,2,3,4],"title":"Iₗ [A]","titleX":-36,"titleFontSize":12,"titleFontWeight":"normal","titleColor":"#000","domainColor":"#000","domainWidth":2,"tickSize":2,"tickColor":"#888","labelPadding":1,"labelOverlap":false,"labelFlush":false,"grid":true,"gridColor":"#e2e2e2","labelExpr":"datum.value==0||datum.value==2 ? datum.value+'\u00a0' : (datum.value==4 ? '4' : '')","labelFontSize":{"condition":{"test":"datum.value==0||datum.value==2","value":12},"value":4},"labelColor":{"condition":{"test":"datum.value==0||datum.value==2","value":"#000"},"value":"#666"}}},"color":{"field":"s","type":"nominal","legend":null}}},
{"data":{"values":[{"m":"I","sub":"L2","s":"B","t":20.29983,"v":1.65},{"m":"I","sub":"L1","s":"R","t":20.30036,"v":-0.3}]},"layer":[
{"mark":{"type":"text","align":"left","baseline":"alphabetic","fontSize":13,"fontStyle":"italic"},"encoding":{"x":{"field":"t","type":"quantitative"},"y":{"field":"v","type":"quantitative"},"text":{"field":"m"},"color":{"field":"s","type":"nominal","legend":null}}},
{"mark":{"type":"text","align":"left","baseline":"alphabetic","fontSize":7,"fontWeight":"bold","dx":4.5,"dy":2},"encoding":{"x":{"field":"t","type":"quantitative"},"y":{"field":"v","type":"quantitative"},"text":{"field":"sub"},"color":{"field":"s","type":"nominal","legend":null}}}]}]},
{"width":37,"height":46,"data":{"values":[]},"mark":"point"},
{"width":223,"height":46,"layer":[
{"data":{"name":"ilR"},"mark":{"type":"line","clip":true,"strokeWidth":1.1},"encoding":{"x":{"field":"t","type":"quantitative","scale":{"domain":[20.4993,20.5055],"nice":false,"zero":false},"axis":{"values":[20.5,20.501,20.502,20.503,20.504,20.505],"labels":false,"ticks":false,"domain":false,"grid":true,"gridColor":"#e2e2e2","title":null}},"y":{"field":"v","type":"quantitative","scale":{"domain":[-2.1,4.8],"nice":false,"zero":false},"axis":{"values":[-2,-1,0,1,2,3,4],"labels":false,"ticks":false,"domain":false,"grid":true,"gridColor":"#e2e2e2","title":null}},"color":{"field":"s","type":"nominal","legend":null}}},
{"data":{"values":[{"m":"V","sub":"X1","s":"R","t":20.50095,"v":3.6},{"m":"V","sub":"X2","s":"B","t":20.50152,"v":3.6}]},"layer":[
{"mark":{"type":"text","align":"left","baseline":"alphabetic","fontSize":13,"fontStyle":"italic"},"encoding":{"x":{"field":"t","type":"quantitative"},"y":{"field":"v","type":"quantitative"},"text":{"field":"m"},"color":{"field":"s","type":"nominal","legend":null}}},
{"mark":{"type":"text","align":"left","baseline":"alphabetic","fontSize":7,"fontWeight":"bold","dx":9,"dy":2},"encoding":{"x":{"field":"t","type":"quantitative"},"y":{"field":"v","type":"quantitative"},"text":{"field":"sub"},"color":{"field":"s","type":"nominal","legend":null}}}]}]},
{"width":267,"height":48,"resolve":{"axis":{"x":"independent"}},"layer":[
{"layer":[
{"data":{"name":"voutLP"},"mark":{"type":"line","color":"#333","strokeWidth":1.3,"clip":true},"encoding":{"x":{"field":"t","type":"quantitative","scale":{"domain":[20.2984,20.3062],"nice":false,"zero":false},"axis":{"orient":"bottom","tickCount":78,"title":null,"labelExpr":"abs((datum.value-20.2985)*1000-round((datum.value-20.2985)*1000))<0.02 ? format(datum.value,'.4f') : ''","labelFontSize":4,"labelColor":"#333","labelPadding":2,"labelOverlap":false,"labelFlush":false,"tickSize":{"condition":{"test":"abs((datum.value-20.2985)*1000-round((datum.value-20.2985)*1000))<0.02","value":4},"value":2},"tickColor":"#333","tickWidth":0.6,"domainColor":"#000","domainWidth":2,"grid":true,"gridColor":"#e2e2e2","gridOpacity":{"condition":{"test":"abs((datum.value-20.2985)*1000-round((datum.value-20.2985)*1000))<0.02","value":1},"value":0}}},"y":{"field":"v","type":"quantitative","scale":{"domain":[0.8,1.33],"nice":false,"zero":false},"axis":{"values":[0.8,0.9,1,1.1,1.2,1.3],"title":"Vₒᵤₜ [V]","titleX":-36,"titleFontSize":12,"titleFontWeight":"normal","titleColor":"#000","domainColor":"#000","domainWidth":2,"tickSize":2,"tickColor":"#888","labelPadding":1,"labelOverlap":false,"labelFlush":false,"grid":true,"gridColor":"#e2e2e2","labelExpr":"datum.value==1 ? '1\u00a0' : (datum.value==1.2 ? '1.2' : '')","labelFontSize":{"condition":{"test":"datum.value==1","value":12},"value":4},"labelColor":{"condition":{"test":"datum.value==1","value":"#000"},"value":"#666"}}}}},
{"data":{"values":[{"t":20.29992,"t2":20.30088,"v":1.02,"v2":1.02},{"t":20.30213,"t2":20.30213,"v":1.155,"v2":1.033},{"t":20.30213,"t2":20.30213,"v":0.805,"v2":0.904}]},"mark":{"type":"rule","color":"#000","strokeWidth":1.4},"encoding":{"x":{"field":"t","type":"quantitative"},"x2":{"field":"t2"},"y":{"field":"v","type":"quantitative"},"y2":{"field":"v2"}}},
{"data":{"values":[{"t":20.30001,"v":1.02,"d":"l"},{"t":20.30079,"v":1.02,"d":"r"},{"t":20.30213,"v":1.063,"d":"d"},{"t":20.30213,"v":0.874,"d":"u"}]},"mark":{"type":"point","filled":true,"size":30,"color":"#000","opacity":1},"encoding":{"x":{"field":"t","type":"quantitative"},"y":{"field":"v","type":"quantitative"},"shape":{"field":"d","type":"nominal","legend":null}}},
{"data":{"values":[{"txt":"1.59µs","t":20.30056,"v":1.09}]},"mark":{"type":"text","align":"center","baseline":"alphabetic","fontSize":15,"fontWeight":"bold","color":"#000"},"encoding":{"x":{"field":"t","type":"quantitative"},"y":{"field":"v","type":"quantitative"},"text":{"field":"txt"}}},
{"data":{"values":[{"txt":"75.4mV","t":20.30255,"v":0.845}]},"mark":{"type":"text","align":"left","baseline":"alphabetic","fontSize":15,"color":"#000"},"encoding":{"x":{"field":"t","type":"quantitative"},"y":{"field":"v","type":"quantitative"},"text":{"field":"txt"}}}]},
{"data":{"values":[{"t":20.30007,"t2":20.30234,"v":0.923}]},"mark":{"type":"rule","color":"#000","strokeWidth":1.3,"strokeDash":[4,2.5]},"encoding":{"x":{"field":"t","type":"quantitative","axis":{"orient":"bottom","values":[20.2995,20.3055],"format":".4f","title":null,"labelFontSize":11.5,"labelColor":"#000","labelPadding":2,"labelOverlap":false,"labelFlush":false,"tickSize":10,"tickColor":"#000","tickWidth":1.2,"domain":false,"grid":false}},"x2":{"field":"t2"},"y":{"field":"v","type":"quantitative"}}}]},
{"width":37,"height":48,"data":{"values":[]},"mark":"point","encoding":{"x":{"field":"u","type":"quantitative","scale":{"domain":[0,37]},"axis":{"title":"t [ms]","titleX":12,"labels":false,"ticks":false,"domain":false,"grid":false,"titlePadding":18,"titleFontSize":13,"titleFontWeight":"normal","titleColor":"#000"}}}},
{"width":223,"height":48,"resolve":{"axis":{"x":"independent"}},"layer":[
{"layer":[
{"data":{"name":"voutR"},"mark":{"type":"line","color":"#333","strokeWidth":1.3,"clip":true},"encoding":{"x":{"field":"t","type":"quantitative","scale":{"domain":[20.4993,20.5055],"nice":false,"zero":false},"axis":{"orient":"bottom","tickCount":62,"title":null,"labelExpr":"abs(datum.value*1000-round(datum.value*1000))<0.02 ? format(datum.value,'.3~f') : ''","labelFontSize":4,"labelColor":"#333","labelPadding":2,"labelOverlap":false,"labelFlush":false,"tickSize":{"condition":{"test":"abs(datum.value*1000-round(datum.value*1000))<0.02","value":4},"value":2},"tickColor":"#333","tickWidth":0.6,"domainColor":"#000","domainWidth":2,"grid":true,"gridColor":"#e2e2e2","gridOpacity":{"condition":{"test":"abs(datum.value*1000-round(datum.value*1000))<0.02","value":1},"value":0}}},"y":{"field":"v","type":"quantitative","scale":{"domain":[0.8,1.33],"nice":false,"zero":false},"axis":{"values":[0.8,0.9,1,1.1,1.2,1.3],"labels":false,"ticks":false,"domain":false,"grid":true,"gridColor":"#e2e2e2","title":null}}}},
{"data":{"values":[{"t":20.50014,"t2":20.50167,"v":1.02,"v2":1.02},{"t":20.49988,"t2":20.49988,"v":1.2,"v2":1.0}]},"mark":{"type":"rule","color":"#000","strokeWidth":1.4},"encoding":{"x":{"field":"t","type":"quantitative"},"x2":{"field":"t2"},"y":{"field":"v","type":"quantitative"},"y2":{"field":"v2"}}},
{"data":{"values":[{"t":20.50022,"v":1.02,"d":"l"},{"t":20.50159,"v":1.02,"d":"r"},{"t":20.49988,"v":1.17,"d":"u"},{"t":20.49988,"v":1.03,"d":"d"}]},"mark":{"type":"point","filled":true,"size":30,"color":"#000","opacity":1},"encoding":{"x":{"field":"t","type":"quantitative"},"y":{"field":"v","type":"quantitative"},"shape":{"field":"d","type":"nominal","legend":null}}},
{"data":{"values":[{"txt":"1.98µs","t":20.50092,"v":0.857}]},"mark":{"type":"text","align":"center","baseline":"alphabetic","fontSize":15,"fontWeight":"bold","color":"#000"},"encoding":{"x":{"field":"t","type":"quantitative"},"y":{"field":"v","type":"quantitative"},"text":{"field":"txt"}}},
{"data":{"values":[{"txt":"0.2V","t":20.49974,"v":1.033}]},"mark":{"type":"text","align":"right","baseline":"alphabetic","fontSize":15,"color":"#000"},"encoding":{"x":{"field":"t","type":"quantitative"},"y":{"field":"v","type":"quantitative"},"text":{"field":"txt"}}}]},
{"data":{"values":[{"t":20.49986,"t2":20.50133,"v":1.2}]},"mark":{"type":"rule","color":"#000","strokeWidth":1.3,"strokeDash":[4,2.5]},"encoding":{"x":{"field":"t","type":"quantitative","axis":{"orient":"bottom","values":[20.5,20.505],"format":".3~f","title":null,"labelFontSize":11.5,"labelColor":"#000","labelPadding":2,"labelOverlap":false,"labelFlush":false,"tickSize":10,"tickColor":"#000","tickWidth":1.2,"domain":false,"grid":false}},"x2":{"field":"t2"},"y":{"field":"v","type":"quantitative"}}}]}
],"columns":3,"spacing":0,"bounds":"flush","align":"each"}
]
}
